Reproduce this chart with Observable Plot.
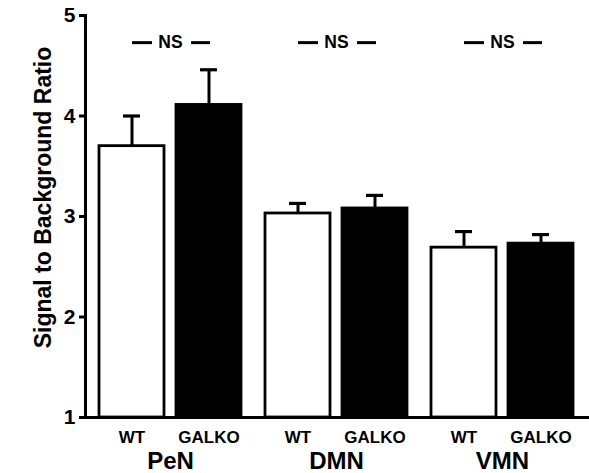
<!DOCTYPE html>
<html>
<head>
<meta charset="utf-8">
<script src="https://cdn.jsdelivr.net/npm/d3@7"></script>
<script src="https://cdn.jsdelivr.net/npm/@observablehq/plot@0.6"></script>
<style>
  html, body { margin: 0; padding: 0; background: #fff; }
</style>
</head>
<body>
<div id="chart"></div>
<script>
const regions = ["PeN", "DMN", "VMN"];
const genotypes = ["WT", "GALKO"];
const wtMeans = [3.70, 3.03, 2.69];
const galkoMeans = [4.11, 3.08, 2.73];
const wtSEM = [0.30, 0.10, 0.16];
const galkoSEM = [0.35, 0.13, 0.09];
const yTicks = [1, 2, 3, 4, 5];
const nsLabel = "NS";
const nsLevel = 4.73;
const yLabel = "Signal to Background Ratio";

const data = [];
regions.forEach((r, i) => {
  data.push({region: r, genotype: "WT", mean: wtMeans[i], upper: wtMeans[i] + wtSEM[i]});
  data.push({region: r, genotype: "GALKO", mean: galkoMeans[i], upper: galkoMeans[i] + galkoSEM[i]});
});
const nsData = regions.map(r => ({region: r, y: nsLevel}));

const plot = Plot.plot({
  width: 589,
  height: 473,
  marginLeft: 99,
  marginRight: 16,
  marginTop: 15,
  marginBottom: 56,
  style: {fontFamily: "'Liberation Sans', Arial, sans-serif", fontWeight: "bold", background: "#fff"},
  fx: {domain: regions, paddingInner: 0.145, paddingOuter: 0, label: null},
  x: {domain: genotypes, paddingInner: 0.156, paddingOuter: 0, label: null},
  y: {domain: [1, 5], label: null},
  color: {domain: genotypes, range: ["white", "black"]},
  marks: [
    Plot.barY(data, {fx: "region", x: "genotype", y1: 1, y2: "mean", fill: "genotype", stroke: "black", strokeWidth: 2.8}),
    Plot.ruleX(data, {fx: "region", x: "genotype", y1: "mean", y2: "upper", stroke: "black", strokeWidth: 3}),
    Plot.tickY(data, {fx: "region", x: "genotype", y: "upper", stroke: "black", strokeWidth: 3.2, insetLeft: 24, insetRight: 24}),
    Plot.text(nsData, {fx: "region", y: "y", text: () => nsLabel, fontSize: 17.5, fill: "black"}),
    Plot.tickY(nsData, {fx: "region", y: "y", stroke: "black", strokeWidth: 3, insetLeft: 33, insetRight: 89}),
    Plot.tickY(nsData, {fx: "region", y: "y", stroke: "black", strokeWidth: 3, insetLeft: 92, insetRight: 31}),
    Plot.frame({anchor: "left", facet: "super", insetLeft: -14, stroke: "black", strokeWidth: 3, strokeOpacity: 1}),
    Plot.frame({anchor: "bottom", facet: "super", insetLeft: -19, insetRight: -14, stroke: "black", strokeWidth: 3, strokeOpacity: 1}),
    Plot.axisY({ticks: yTicks, tickFormat: d3.format("d"), dx: -14, tickSize: 6, strokeWidth: 3, tickPadding: 4, fontSize: 21, label: null}),
    Plot.axisX({tickSize: 0, tickPadding: 13, fontSize: 17, label: null}),
    Plot.axisFx({anchor: "bottom", tickSize: 0, tickPadding: 34, fontSize: 24, label: null}),
    Plot.text([yLabel], {frameAnchor: "left", facet: "super", text: d => d, textAnchor: "middle", rotate: -90, dx: -56, dy: -19, fontSize: 23, fill: "black"})
  ]
});
document.getElementById("chart").appendChild(plot);
</script>
</body>
</html>
